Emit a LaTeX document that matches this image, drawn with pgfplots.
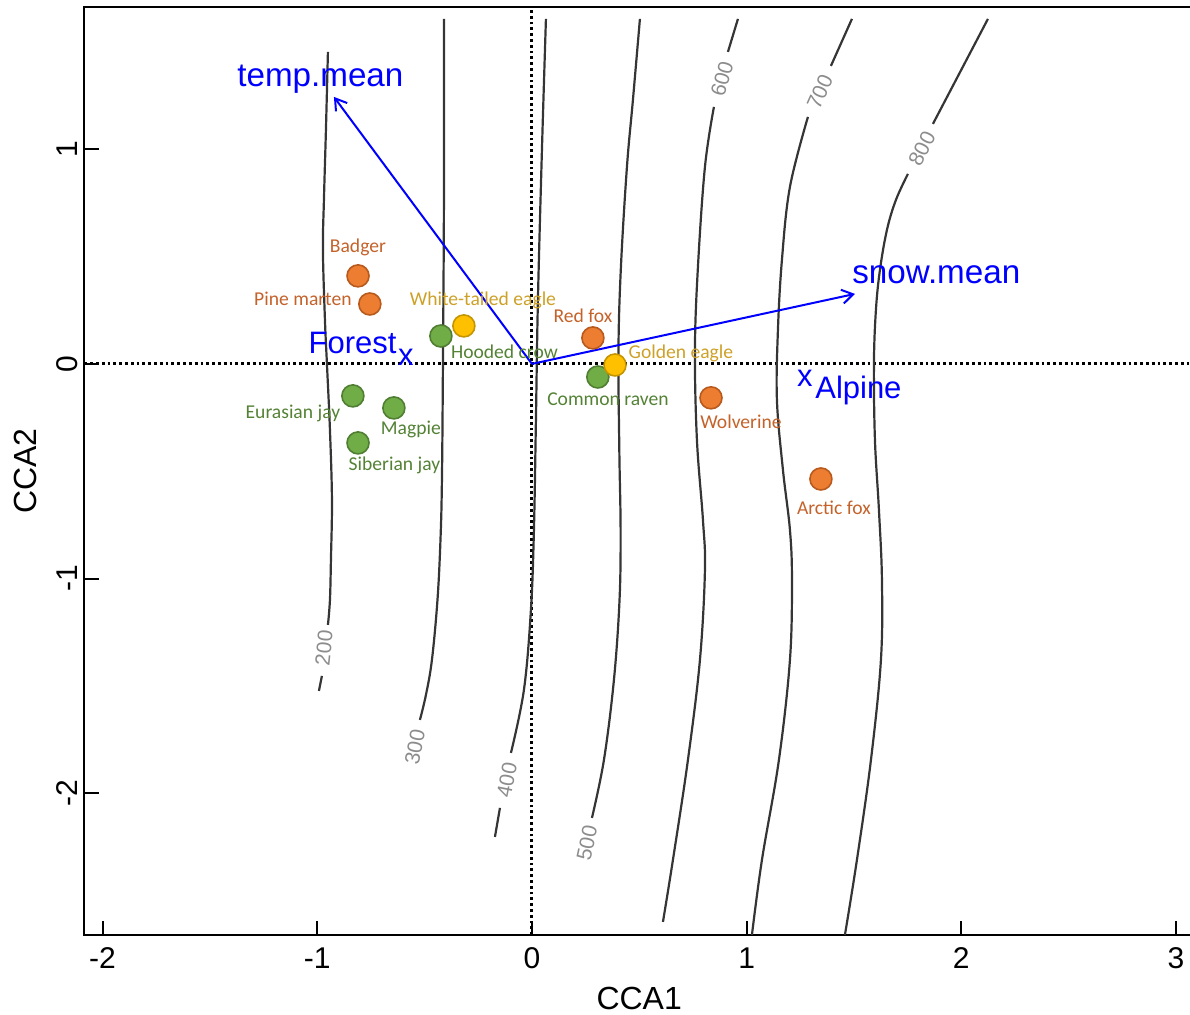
\documentclass[border=0pt]{standalone}
\usepackage{pgfplots}
\pgfplotsset{compat=1.18}
\usepackage{fontspec}
\setmainfont{Liberation Sans}
\newfontfamily\labelfont{Carlito}
\usetikzlibrary{arrows.meta}

\definecolor{orgfill}{HTML}{ED7D31}
\definecolor{orgedge}{HTML}{B85A1E}
\definecolor{orgtext}{HTML}{C4622A}
\definecolor{grnfill}{HTML}{70AD47}
\definecolor{grnedge}{HTML}{507E32}
\definecolor{grntext}{HTML}{548235}
\definecolor{ylwfill}{HTML}{FFC000}
\definecolor{ylwedge}{HTML}{C49500}
\definecolor{ylwtext}{HTML}{CDA028}
\definecolor{contour}{HTML}{353535}
\definecolor{contourlab}{HTML}{8C8C8C}

\tikzset{
  species/.style={font=\labelfont\fontsize{9.8}{12}\selectfont, anchor=base, inner sep=0pt},
  clab/.style={text=contourlab, font=\fontsize{10.5}{12}\selectfont, inner sep=0pt},
  envlab/.style={text=blue, anchor=base west, inner sep=0pt},
}

\begin{document}
\begin{tikzpicture}
\begin{axis}[
  x=107.35pt, y=107.35pt,
  xmin=-2.084, xmax=3.083, ymin=-2.660, ymax=1.660,
  axis line style={line width=1pt},
  xtick={-2,...,3}, xticklabels={-2,-1,0,1,2,3},
  ytick={-2,...,1}, yticklabels={-2,-1,0,1},
  xtick pos=bottom, ytick pos=left,
  tick align=inside,
  major tick length=7pt,
  every tick/.style={black, line width=1pt},
  tick label style={font=\fontsize{15}{18}\selectfont},
  xticklabel style={anchor=base, inner sep=0pt},
  xticklabel shift=16.5pt,
  yticklabel style={rotate=90, anchor=south, inner sep=0pt},
  yticklabel shift=3.25pt,
  xlabel={CCA1}, ylabel={CCA2},
  label style={font=\fontsize{16}{19}\selectfont},
  xlabel style={at={([yshift=-37pt]axis description cs:0.5,0)}, anchor=base, inner sep=0pt},
  ylabel style={at={([xshift=-23.75pt]axis description cs:0,0.5)}, anchor=base, inner sep=0pt},
  every axis plot/.append style={line cap=butt},
]

% reference lines through the origin
\addplot[black, line width=1.5pt, dash pattern=on 1.4pt off 1.5pt] coordinates {(0,-2.66) (0,1.66)};
\addplot[black, line width=1.5pt, dash pattern=on 1.4pt off 1.5pt] coordinates {(-2.084,0) (3.083,0)};

% snow depth contours (fitted surface)
\pgfplotsset{cline/.style={contour, line width=1.1pt}}
\addplot[cline, smooth, tension=0.6] coordinates {
  (-0.9502,1.4532) (-0.9595,1.0899) (-0.9688,0.7639) (-0.9735,0.5310) (-0.9641,0.2049)
  (-0.9548,0) (-0.9408,-0.3074) (-0.9315,-0.6334) (-0.9362,-0.9129) (-0.9408,-1.0992) (-0.9502,-1.2157)};
\addplot[cline] coordinates {(-0.9781,-1.4532) (-0.9921,-1.5231)};

\addplot[cline, smooth, tension=0.6] coordinates {
  (-0.4099,1.6069) (-0.4099,0.7639) (-0.4145,0) (-0.4192,-0.5403) (-0.4260,-0.8200)
  (-0.4400,-1.1000) (-0.4658,-1.3787) (-0.4937,-1.5417) (-0.5217,-1.6581)};

\addplot[cline, smooth, tension=0.6] coordinates {
  (0.0652,1.6069) (0.0466,0.9967) (0.0279,0.2981) (0.0186,-0.2608) (0.0093,-0.7732)
  (-0.0047,-1.1458) (-0.0373,-1.5184) (-0.0978,-1.8118)};
\addplot[cline] coordinates {(-0.1490,-2.0680) (-0.1723,-2.2031)};

\addplot[cline, smooth, tension=0.6] coordinates {
  (0.5030,1.6069) (0.4704,1.2296) (0.4425,0.9176) (0.4145,0.4518) (0.4030,0.0652)
  (0.4070,-0.4006) (0.4130,-0.7732) (0.4080,-1.0992) (0.3819,-1.4718) (0.3354,-1.8444) (0.2795,-2.1146)};

\addplot[cline] coordinates {(0.9595,1.6069) (0.9129,1.4532)};
\addplot[cline, smooth, tension=0.6] coordinates {
  (0.8477,1.1970) (0.8058,0.9176) (0.7732,0.4518) (0.7592,0.0652) (0.7685,-0.3540)
  (0.7965,-0.7266) (0.8058,-0.9595) (0.7825,-1.3787) (0.7266,-1.8444) (0.6567,-2.3102) (0.6102,-2.5990)};

\addplot[cline] coordinates {(1.4905,1.6069) (1.3926,1.3880)};
\addplot[cline, smooth, tension=0.6] coordinates {
  (1.2855,1.1504) (1.2017,0.8244) (1.1644,0.4844) (1.1458,0.1584) (1.1411,-0.1677)
  (1.1691,-0.4937) (1.2017,-0.7732) (1.2110,-1.0060) (1.2017,-1.3787) (1.1504,-1.8444)
  (1.0713,-2.3102) (1.0247,-2.6596)};

\addplot[cline] coordinates {(2.1239,1.6069) (1.8677,1.1178)};
\addplot[cline, smooth, tension=0.6] coordinates {
  (1.7513,0.8850) (1.6954,0.7639) (1.6535,0.6241) (1.6209,0.4378) (1.6022,0.2515)
  (1.5929,0) (1.5976,-0.3540) (1.6162,-0.6800) (1.6302,-1.0060) (1.6255,-1.3787)
  (1.5790,-1.8444) (1.5137,-2.3102) (1.4578,-2.6596)};

\node[clab, rotate=84] at (axis cs:-0.9688,-1.3228) {200};
\node[clab, rotate=79] at (axis cs:-0.5449,-1.7839) {300};
\node[clab, rotate=79] at (axis cs:-0.1164,-1.9376) {400};
\node[clab, rotate=78] at (axis cs:0.2562,-2.2310) {500};
\node[clab, rotate=74] at (axis cs:0.8850,1.3274) {600};
\node[clab, rotate=66] at (axis cs:1.3414,1.2669) {700};
\node[clab, rotate=63] at (axis cs:1.8165,1.0014) {800};

% environmental vectors
\addplot[blue, line width=1pt, -{Straight Barb[length=5.5pt,width=7pt]}] coordinates {(0,0) (-0.9222,1.2436)};
\addplot[blue, line width=1pt, -{Straight Barb[length=5.5pt,width=7pt]}] coordinates {(0,0) (1.5044,0.3260)};
\node[envlab, font=\fontsize{16.6}{19}\selectfont] at (axis cs:-1.374,1.290) {temp.mean};
\node[envlab, font=\fontsize{16.6}{19}\selectfont] at (axis cs:1.4905,0.3726) {snow.mean};

% habitat centroids
\addplot[only marks, mark=text, text mark={x}, text mark as node=true,
  text mark style={text=blue, font=\fontsize{15.5}{18}\selectfont, inner sep=0pt}]
  coordinates {(-0.5869,0.0303) (1.2716,-0.0652)};
\node[envlab, font=\fontsize{15.5}{18}\selectfont] at (axis cs:-1.0419,0.0498) {Forest};
\node[envlab, font=\fontsize{15.5}{18}\selectfont] at (axis cs:1.3181,-0.1598) {Alpine};

% species scores
\addplot[only marks, mark=*, mark size=5.5pt, mark options={fill=grnfill, draw=grnedge, line width=0.8pt}]
  coordinates {(-0.424,0.130) (0.307,-0.061) (-0.834,-0.149) (-0.643,-0.205) (-0.810,-0.368)};
\addplot[only marks, mark=*, mark size=5.5pt, mark options={fill=orgfill, draw=orgedge, line width=0.8pt}]
  coordinates {(-0.810,0.410) (-0.755,0.279) (0.284,0.121) (0.834,-0.158) (1.346,-0.536)};
\addplot[only marks, mark=*, mark size=5.5pt, mark options={fill=ylwfill, draw=ylwedge, line width=0.8pt}]
  coordinates {(-0.317,0.177) (0.387,-0.005)};

\node[species, text=orgtext] at (axis cs:-0.8104,0.5170) {Badger};
\node[species, text=orgtext] at (axis cs:-1.0666,0.2701) {Pine marten};
\node[species, text=ylwtext] at (axis cs:-0.2282,0.2701) {White-tailed eagle};
\node[species, text=grntext] at (axis cs:-0.1281,0.0265) {Hooded crow};
\node[species, text=grntext] at (axis cs:-1.1132,-0.2529) {Eurasian jay};
\node[species, text=grntext] at (axis cs:-0.5636,-0.3307) {Magpie};
\node[species, text=grntext] at (axis cs:-0.6404,-0.4970) {Siberian jay};
\node[species, text=orgtext] at (axis cs:0.2375,0.1942) {Red fox};
\node[species, text=ylwtext] at (axis cs:0.6940,0.0233) {Golden eagle};
\node[species, text=grntext] at (axis cs:0.3540,-0.1942) {Common raven};
\node[species, text=orgtext] at (axis cs:0.9735,-0.2995) {Wolverine};
\node[species, text=orgtext] at (axis cs:1.4066,-0.7000) {Arctic fox};
\end{axis}
\pgfresetboundingbox
\path[use as bounding box] ([shift={(-42.25pt,-39.5pt)}]current axis.south west)
  rectangle ([shift={(552.75pt,467.5pt)}]current axis.south west);
\end{tikzpicture}
\end{document}
